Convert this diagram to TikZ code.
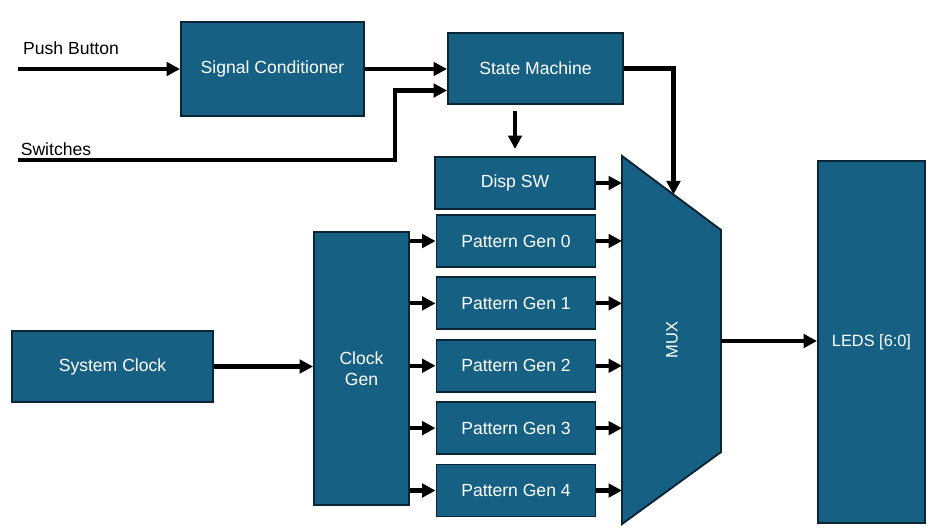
\documentclass[tikz,border=0pt]{standalone}
\usepackage{fontspec}
\setmainfont{Liberation Sans}
\usepackage{tikz}
\usepackage{xcolor}
\usetikzlibrary{arrows.meta, positioning, calc}

\definecolor{blockfill}{HTML}{166083}
\definecolor{blockline}{HTML}{0C2536}

\begin{document}
\begin{tikzpicture}[
    block/.style={draw=blockline, line width=1.1pt, fill=blockfill, text=white, align=center, inner sep=2pt, font=\fontsize{10}{12}\selectfont},
    wire/.style={line width=2.3pt, -{Triangle[length=2.7mm, width=2.7mm]}},
    lbl/.style={font=\fontsize{10}{12}\selectfont},
    ]
    \useasboundingbox (0, 0) rectangle (19.02, -10.58);

    % Input side (top)
    \node[block, minimum width=3.66cm, minimum height=1.88cm] (sigcond) at (5.45, -1.38) {Signal Conditioner};
    \node[block, minimum width=3.5cm, minimum height=1.42cm] (sm) at (10.71, -1.37) {State Machine};
    \coordinate (pb) at (0.36, -1.38);
    \coordinate (sw) at (0.36, -3.2);
    \node[lbl] (pblbl) at (1.42, -0.96) {Push Button};
    \node[lbl] (swlbl) at (1.12, -2.98) {Switches};

    % Disp SW and pattern generators (center column)
    \node[block, minimum width=3.2cm, minimum height=1.04cm] (dispsw) at (10.30, -3.66) {Disp SW};
    \foreach \i in {0,...,4} {
        \node[block, minimum width=3.18cm, minimum height=1.04cm] (pg\i) at (10.32, -4.82-1.2475*\i) {Pattern Gen \i};
    }

    % Clocks (left)
    \node[block, minimum width=4.02cm, minimum height=1.42cm] (sysclk) at (2.25, -7.33) {System Clock};
    \node[block, minimum width=1.9cm, minimum height=5.46cm] (clkgen) at (7.23, -7.37) {Clock\\Gen};

    % MUX (trapezoid)
    \coordinate (muxtl) at (12.44, -3.12);
    \coordinate (muxtr) at (14.42, -4.6);
    \coordinate (muxbr) at (14.42, -9.04);
    \coordinate (muxbl) at (12.44, -10.48);
    \draw[draw=blockline, line width=1.1pt, fill=blockfill] (muxtl) -- (muxtr) -- (muxbr) -- (muxbl) -- cycle;
    \node[text=white, rotate=90, font=\fontsize{9.4}{11}\selectfont] (mux) at (13.44, -6.8) {MUX};
    \coordinate (muxsel) at ($(muxtl)!0.52!(muxtr)$);
    \coordinate (muxout) at ($(muxtr)!0.5!(muxbr)$);

    % LEDs (right)
    \node[block, minimum width=2.14cm, minimum height=7.24cm, font=\fontsize{9.3}{11}\selectfont] (leds) at (17.43, -6.84) {LEDS [6:0]};

    % Arrows
    \draw[wire] (pb) -- (pb -| sigcond.west);
    \draw[wire] (sigcond.east) -- (sigcond.east -| sm.west);
    \draw[wire] (sw) -- (7.9, -3.2) -- (7.9, -1.81) -- (7.9, -1.81 -| sm.west);
    \draw[wire] ([yshift=-3.5pt]sm.south -| dispsw.north) -- ([yshift=4pt]dispsw.north);
    \draw[wire] (sm.east) -| (muxsel);
    \draw[wire] (dispsw.east) -- (dispsw.east -| muxtl);
    \foreach \i in {0,...,4} {
        \draw[wire] (clkgen.east |- pg\i.west) -- (pg\i.west);
        \draw[wire] (pg\i.east) -- (pg\i.east -| muxtl);
    }
    \draw[wire] (sysclk.east) -- (sysclk.east -| clkgen.west);
    \draw[wire] (muxout) -- (muxout -| leds.west);
\end{tikzpicture}
\end{document}
